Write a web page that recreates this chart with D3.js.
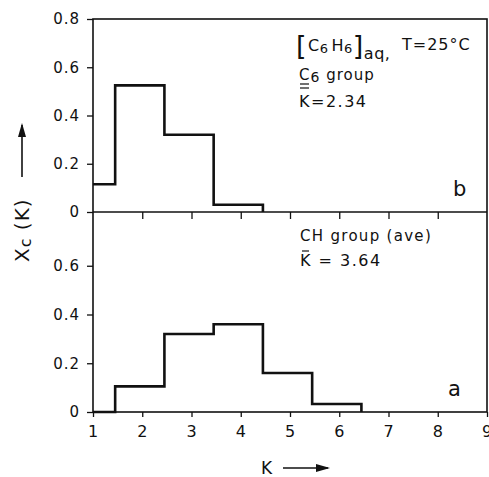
<!DOCTYPE html>
<html>
<head>
<meta charset="utf-8">
<script src="https://cdn.jsdelivr.net/npm/d3@7"></script>
<style>
  html, body { margin: 0; padding: 0; background: #fff; }
  svg text { font-family: "DejaVu Sans", "Liberation Sans", sans-serif; fill: #111; }
</style>
</head>
<body>
<svg id="chart" width="489" height="477"></svg>
<script>
// Distribution X_C(K) of the number of neighbours K, two site groups
const kValues = [1, 2, 3, 4, 5, 6];
const c6Group = [0.115, 0.525, 0.32, 0.03, 0, 0];      // panel b
const chGroup = [0, 0.105, 0.32, 0.36, 0.16, 0.033];   // panel a
const xTicks = [1, 2, 3, 4, 5, 6, 7, 8, 9];
const yTicksTop = [0, 0.2, 0.4, 0.6, 0.8];
const yTicksBottom = [0, 0.2, 0.4, 0.6];

const svg = d3.select("#chart");
const ink = "#111";

const x = d3.scaleLinear().domain([1, 9]).range([93, 487]);
const yTop = d3.scaleLinear().domain([0, 0.8]).range([212, 19]);
const yBot = d3.scaleLinear().domain([0, 0.8]).range([412, 217]);

const fmt = d => d === 0 ? "0" : d3.format(".1f")(d);

// frame and the shared line between the panels
svg.append("rect")
  .attr("x", x(1)).attr("y", yTop(0.8))
  .attr("width", x(9) - x(1)).attr("height", yBot(0) - yTop(0.8))
  .attr("fill", "none").attr("stroke", ink).attr("stroke-width", 1.6);
svg.append("line")
  .attr("x1", x(1)).attr("x2", x(9)).attr("y1", yTop(0)).attr("y2", yTop(0))
  .attr("stroke", ink).attr("stroke-width", 1.6);

function styleAxis(g, size) {
  g.select(".domain").remove();
  g.selectAll(".tick line").attr("stroke", ink).attr("stroke-width", 1.3);
  g.selectAll(".tick text").attr("font-size", size).attr("fill", ink)
    .style("letter-spacing", "1px");
}

// y axes
svg.append("g").attr("transform", `translate(${x(1)},0)`)
  .call(d3.axisLeft(yTop).tickValues(yTicksTop).tickFormat(fmt).tickSize(6).tickPadding(7))
  .call(g => styleAxis(g, 15));
svg.append("g").attr("transform", `translate(${x(1)},0)`)
  .call(d3.axisLeft(yBot).tickValues(yTicksBottom).tickFormat(fmt).tickSize(6).tickPadding(7))
  .call(g => styleAxis(g, 15));

// x ticks under the upper panel
svg.append("g").attr("transform", `translate(0,${yTop(0)})`)
  .call(d3.axisBottom(x).tickValues(xTicks.slice(1, -1)).tickFormat("").tickSize(7))
  .call(g => styleAxis(g, 15));
// bottom x axis
svg.append("g").attr("transform", `translate(0,${yBot(0)})`)
  .call(d3.axisBottom(x).tickValues(xTicks).tickSize(5).tickPadding(9))
  .call(g => styleAxis(g, 16));

// histogram outlines: bins run from K-0.55 to K+0.45
function stepPoints(vals) {
  const pts = [];
  vals.forEach((v, i) => {
    const left = Math.max(1, kValues[i] - 0.55);
    pts.push([left, v]);
  });
  const last = vals.length - 1;
  pts.push([kValues[last] + 0.45, 0]);
  return pts;
}
function trimZeros(vals) {
  let n = vals.length;
  while (n > 1 && vals[n - 1] === 0) n--;
  return vals.slice(0, n);
}

const lineTop = d3.line().x(d => x(d[0])).y(d => yTop(d[1])).curve(d3.curveStepAfter);
const lineBot = d3.line().x(d => x(d[0])).y(d => yBot(d[1])).curve(d3.curveStepAfter);

svg.append("path").attr("d", lineTop(stepPoints(trimZeros(c6Group))))
  .attr("fill", "none").attr("stroke", ink).attr("stroke-width", 2.6);
svg.append("path").attr("d", lineBot(stepPoints(trimZeros(chGroup))))
  .attr("fill", "none").attr("stroke", ink).attr("stroke-width", 2.6);

function rule(x1, x2, y) {
  svg.append("line").attr("x1", x1).attr("x2", x2).attr("y1", y).attr("y2", y)
    .attr("stroke", ink).attr("stroke-width", 1.2);
}

// annotations, upper panel
const t1 = svg.append("text").attr("x", 296).attr("y", 51).attr("font-size", 16)
  .style("letter-spacing", "0.5px");
t1.append("tspan").text("[").attr("font-size", 27).attr("dy", 4);
t1.append("tspan").text("C").attr("dy", -4).attr("dx", 1);
t1.append("tspan").text("6").attr("font-size", 13).attr("dy", 2);
t1.append("tspan").text("H").attr("dy", -2).attr("dx", 3);
t1.append("tspan").text("6").attr("font-size", 13).attr("dy", 2);
t1.append("tspan").text("]").attr("font-size", 27).attr("dy", 2);
t1.append("tspan").text("aq,").attr("font-size", 16).attr("dy", 4);
svg.append("text").attr("x", 402).attr("y", 50).attr("font-size", 16)
  .style("letter-spacing", "1px").text("T=25°C");

const t2 = svg.append("text").attr("x", 299).attr("y", 80).attr("font-size", 15)
  .style("letter-spacing", "1px");
t2.append("tspan").text("C");
t2.append("tspan").text("6").attr("font-size", 14).attr("dy", 2);
t2.append("tspan").text(" group").attr("dy", -2);
rule(300, 309, 84);
svg.append("text").attr("x", 299).attr("y", 107).attr("font-size", 16)
  .style("letter-spacing", "1.5px").text("K=2.34");
rule(300, 309, 88);
svg.append("text").attr("x", 453).attr("y", 196).attr("font-size", 21).text("b");

// annotations, lower panel
svg.append("text").attr("x", 300).attr("y", 241).attr("font-size", 15)
  .style("letter-spacing", "1.3px").text("CH group (ave)");
svg.append("text").attr("x", 300).attr("y", 266).attr("font-size", 16)
  .style("letter-spacing", "1.5px").text("K = 3.64");
rule(302, 309, 251);
svg.append("text").attr("x", 448).attr("y", 396).attr("font-size", 21).text("a");

// arrow helper
function arrow(x1, y1, x2, y2) {
  svg.append("line").attr("x1", x1).attr("y1", y1).attr("x2", x2).attr("y2", y2)
    .attr("stroke", ink).attr("stroke-width", 1.6);
  const a = Math.atan2(y2 - y1, x2 - x1), L = 12, W = 4;
  const p = [
    [x2 + Math.cos(a) * 2, y2 + Math.sin(a) * 2],
    [x2 - Math.cos(a) * L - Math.sin(a) * W, y2 - Math.sin(a) * L + Math.cos(a) * W],
    [x2 - Math.cos(a) * L + Math.sin(a) * W, y2 - Math.sin(a) * L - Math.cos(a) * W]
  ];
  svg.append("polygon").attr("points", p.map(d => d.join(",")).join(" ")).attr("fill", ink);
}

// y title
const yl = svg.append("text").attr("transform", "translate(29,262) rotate(-90)").attr("font-size", 20)
  .style("letter-spacing", "1px");
yl.append("tspan").text("X");
yl.append("tspan").text("c").attr("font-size", 16).attr("dy", 2);
yl.append("tspan").text(" (K)").attr("dy", -2);
arrow(22, 177, 22, 125);

// x title
svg.append("text").attr("x", 261).attr("y", 474).attr("font-size", 17).text("K");
arrow(283, 468, 328, 468);
</script>
</body>
</html>
